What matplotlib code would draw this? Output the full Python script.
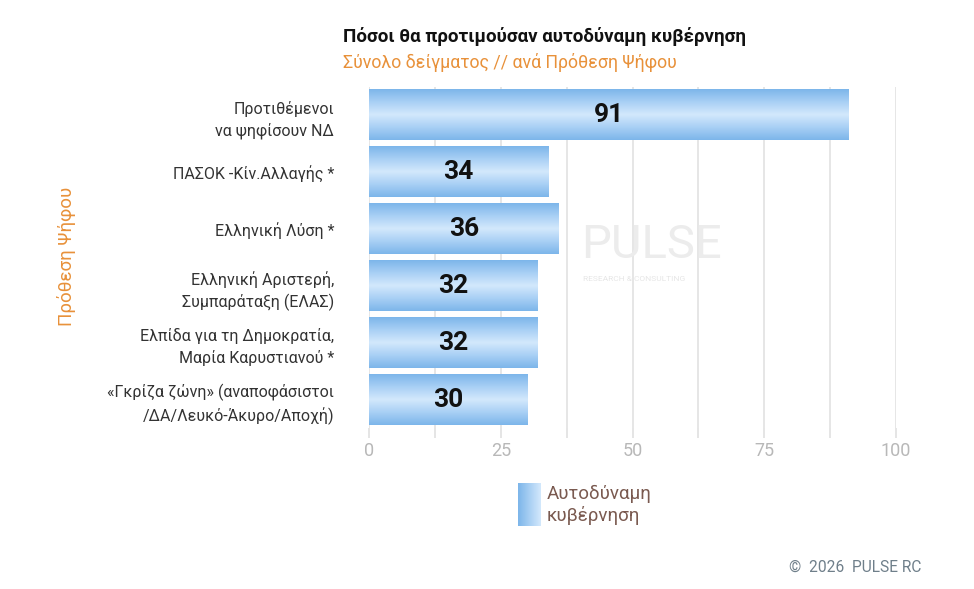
import numpy as np
import matplotlib.pyplot as plt
from matplotlib.colors import LinearSegmentedColormap

plt.rcParams['font.family'] = ['Roboto', 'DejaVu Sans']

categories = ["Προτιθέμενοι\nνα ψηφίσουν ΝΔ",
              "ΠΑΣΟΚ -Κίν.Αλλαγής *",
              "Ελληνική Λύση *",
              "Ελληνική Αριστερή,\nΣυμπαράταξη (ΕΛΑΣ)",
              "Ελπίδα για τη Δημοκρατία,\nΜαρία Καρυστιανού *",
              "«Γκρίζα ζώνη» (αναποφάσιστοι\n/ΔΑ/Λευκό-Άκυρο/Αποχή)"]
values = [91, 34, 36, 32, 32, 30]
series_name = "Αυτοδύναμη\nκυβέρνηση"
xticks = [0, 25, 50, 75, 100]

title = "Πόσοι θα προτιμούσαν αυτοδύναμη κυβέρνηση"
subtitle = "Σύνολο δείγματος // ανά Πρόθεση Ψήφου"

orange = "#e8913a"
cmap = LinearSegmentedColormap.from_list("bar", ["#7db6ea", "#a9d0f5", "#d3e8fc", "#a9d0f5", "#7db6ea"])

fig = plt.figure(figsize=(9.74, 5.89), dpi=100)
ax = fig.add_axes([369 / 974, 1 - 428 / 589, (896 - 369) / 974, (428 - 87) / 589])

ypos = np.arange(len(values))
bh = 0.88
grad = np.linspace(0, 1, 100).reshape(-1, 1)
bars = ax.barh(ypos, values, height=bh, color="none", zorder=2)
for b, v in zip(bars, values):
    x0, y0 = b.get_x(), b.get_y()
    w, h = b.get_width(), b.get_height()
    ax.imshow(grad, cmap=cmap, aspect="auto", extent=[x0, x0 + w, y0 + h, y0],
              zorder=2, interpolation="bilinear")
    ax.text(x0 + w / 2, y0 + h / 2, str(v), ha="center", va="center",
            fontsize=19, fontweight="bold", color="#111111", zorder=3)

ax.set_xlim(0, 100)
ax.set_ylim(len(values) - 0.5, -0.5)
ax.set_xticks(np.arange(0, 101, 12.5), minor=True)
ax.set_xticks(xticks)
ax.set_xticklabels([str(t) for t in xticks], fontsize=13, color="#b8b8b8")
ax.grid(axis="x", which="both", color="#e2e2e2", linewidth=1.2, zorder=0)
ax.tick_params(axis="x", which="both", length=7, color="#e0e0e0", width=1.2, pad=3)
ax.set_yticks(ypos)
ax.set_yticklabels(categories, fontsize=11.5, color="#333333", linespacing=1.45)
ax.tick_params(axis="y", length=0, pad=25)
for s in ax.spines.values():
    s.set_visible(False)
ax.set_axisbelow(True)

# watermark
fig.text(581 / 974, 1 - 245 / 589, "PULSE", fontsize=34, color="#ececec",
         ha="left", va="center", zorder=1)
fig.text(583 / 974, 1 - 279 / 589, "RESEARCH & CONSULTING", fontsize=6, color="#e6e6e6",
         ha="left", va="center", zorder=1)

fig.text(343 / 974, 1 - 37 / 589, title, fontsize=13.5, fontweight="bold",
         color="#111111", ha="left", va="center")
fig.text(343 / 974, 1 - 62 / 589, subtitle, fontsize=12.8, color=orange,
         ha="left", va="center")
fig.text(66 / 974, 1 - 256 / 589, "Πρόθεση Ψήφου", fontsize=13.5, color=orange,
         rotation=90, ha="center", va="center")

# legend
lax = fig.add_axes([518 / 974, 1 - 526 / 589, 22 / 974, 43 / 589])
lax.imshow(np.linspace(0, 1, 50).reshape(1, -1), cmap=LinearSegmentedColormap.from_list(
    "leg", ["#7db6ea", "#d3e8fc"]), aspect="auto", interpolation="bilinear")
lax.axis("off")
fig.text(547 / 974, 1 - 505 / 589, series_name, fontsize=13.5, color="#7a5a50",
         ha="left", va="center", linespacing=1.2)

fig.text(921 / 974, 1 - 567 / 589, "©  2026  PULSE RC", fontsize=11.2, color="#6f7f8a",
         ha="right", va="center")

fig.savefig("out.png", dpi=100, facecolor="white")
